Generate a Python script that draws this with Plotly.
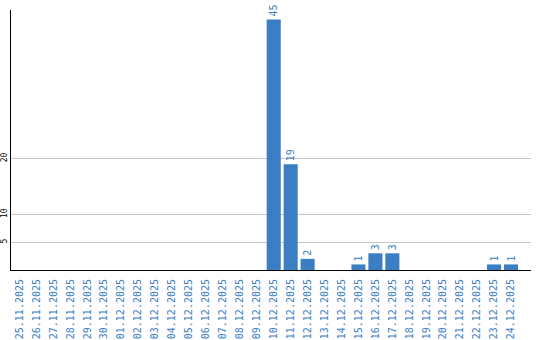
import plotly.graph_objects as go

dates = ["25.11.2025","26.11.2025","27.11.2025","28.11.2025","29.11.2025","30.11.2025",
         "01.12.2025","02.12.2025","03.12.2025","04.12.2025","05.12.2025","06.12.2025",
         "07.12.2025","08.12.2025","09.12.2025","10.12.2025","11.12.2025","12.12.2025",
         "13.12.2025","14.12.2025","15.12.2025","16.12.2025","17.12.2025","18.12.2025",
         "19.12.2025","20.12.2025","21.12.2025","22.12.2025","23.12.2025","24.12.2025"]
counts = [0,0,0,0,0,0,0,0,0,0,0,0,0,0,0,45,19,2,0,0,1,3,3,0,0,0,0,0,1,1]
labels = [str(v) if v else "" for v in counts]
ytick_vals = [5, 10, 20]

BLUE = "#3b7ec4"

fig = go.Figure(go.Bar(
    x=list(range(len(dates))), y=counts, text=labels,
    textposition="outside", textangle=-90, constraintext="none", cliponaxis=False,
    textfont=dict(family="DejaVu Sans Mono", size=10, color=BLUE),
    marker=dict(color=BLUE, line=dict(width=0)),
))
fig.update_layout(
    width=540, height=340, margin=dict(l=11, r=9, t=10, b=70),
    paper_bgcolor="white", plot_bgcolor="white", showlegend=False, bargap=0.17,
    xaxis=dict(range=[-0.5, 30.18], tickmode="array", tickvals=list(range(len(dates))),
               ticktext=dates, tickangle=-90, showgrid=False, zeroline=False,
               showline=True, linecolor="black", linewidth=1, ticks="", automargin=False,
               ticklabelstandoff=4,
               tickfont=dict(family="DejaVu Sans Mono", size=10, color=BLUE)),
    yaxis=dict(range=[0, 46.7], tickmode="array", tickvals=ytick_vals, tickangle=-90,
               showgrid=True, gridcolor="#c8c8c8", gridwidth=1, zeroline=False,
               showline=True, linecolor="black", linewidth=1, ticks="", automargin=False,
               ticklabelstandoff=0,
               tickfont=dict(family="DejaVu Sans Mono", size=8, color="black")),
)
fig.write_html("out.html")
